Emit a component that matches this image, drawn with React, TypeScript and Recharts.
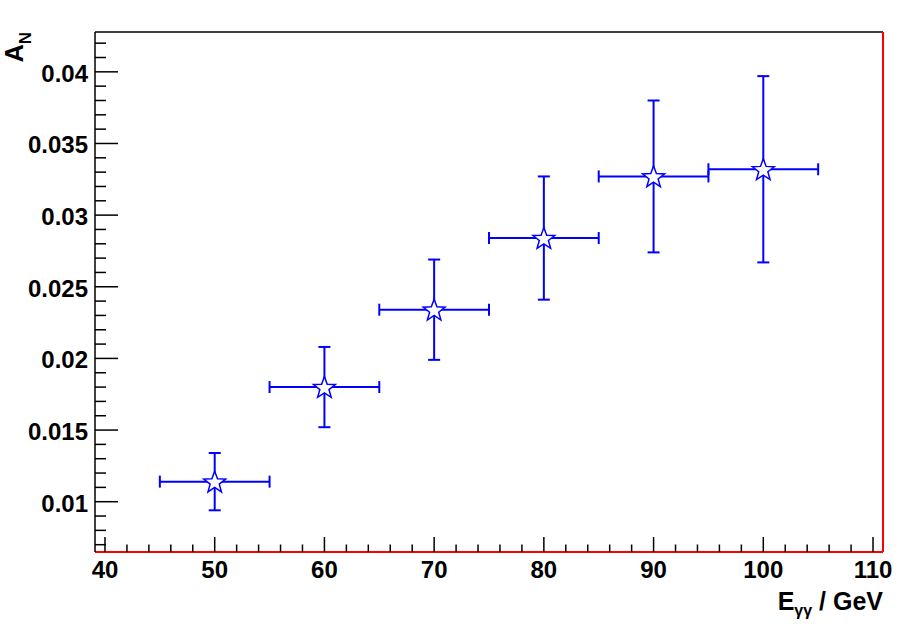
import React from "react";
import { ScatterChart, Scatter, XAxis, YAxis, ErrorBar, ReferenceLine } from "recharts";

// ---- data ----
const energies = [50, 60, 70, 80, 90, 100];
const asymmetry = [0.0114, 0.0180, 0.0234, 0.0284, 0.0327, 0.0332];
const asymmetryErr = [0.0020, 0.0028, 0.0035, 0.0043, 0.0053, 0.0065];
const energyErr = [5, 5, 5, 5, 5, 5];

const xMajorTicks = [40, 50, 60, 70, 80, 90, 100, 110];
const xMinorTicks = [42, 44, 46, 48, 52, 54, 56, 58, 62, 64, 66, 68, 72, 74, 76, 78, 82, 84, 86, 88, 92, 94, 96, 98, 102, 104, 106, 108];
const yMajorTicks = [0.01, 0.015, 0.02, 0.025, 0.03, 0.035, 0.04];
const yMajorLabels = ["0.01", "0.015", "0.02", "0.025", "0.03", "0.035", "0.04"];
const yMinorTicks = [0.007, 0.008, 0.009, 0.011, 0.012, 0.013, 0.014, 0.016, 0.017, 0.018, 0.019, 0.021, 0.022, 0.023, 0.024, 0.026, 0.027, 0.028, 0.029, 0.031, 0.032, 0.033, 0.034, 0.036, 0.037, 0.038, 0.039, 0.041, 0.042];

const X_DOMAIN: [number, number] = [39.09, 110.91];
const Y_DOMAIN: [number, number] = [0.00649, 0.04278];

const data = energies.map((e, i) => ({
  x: e,
  y: asymmetry[i],
  ex: energyErr[i],
  ey: asymmetryErr[i],
}));

// ---- layout ----
const W = 902;
const H = 634;
const PLOT_LEFT = 95;
const PLOT_RIGHT = 883;
const PLOT_TOP = 32;
const PLOT_BOTTOM = 552;
const FONT = "'Liberation Sans', Arial, Helvetica, sans-serif";
const BLUE = "#0000ff";

const allX = [...xMajorTicks, ...xMinorTicks].sort((a, b) => a - b);
const allY = [...yMajorTicks, ...yMinorTicks].sort((a, b) => a - b);

function XTick(props: any) {
  const { x, payload } = props;
  const v = payload.value;
  const idx = xMajorTicks.indexOf(v);
  const major = idx >= 0;
  return (
    <g>
      <line x1={x} x2={x} y1={PLOT_BOTTOM} y2={PLOT_BOTTOM - (major ? 15 : 7.5)} stroke="#000" strokeWidth={1.5} />
      {major && (
        <text x={x} y={PLOT_BOTTOM + 26} textAnchor="middle" fontFamily={FONT} fontWeight="bold" fontSize={24} fill="#000">
          {String(xMajorTicks[idx])}
        </text>
      )}
    </g>
  );
}

function YTick(props: any) {
  const { y, payload } = props;
  const v = payload.value;
  let idx = -1;
  yMajorTicks.forEach((t, i) => {
    if (Math.abs(t - v) < 1e-9) idx = i;
  });
  const major = idx >= 0;
  return (
    <g>
      <line x1={PLOT_LEFT} x2={PLOT_LEFT + (major ? 23 : 11)} y1={y} y2={y} stroke="#000" strokeWidth={1.5} />
      {major && (
        <text x={PLOT_LEFT - 7} y={y + 10} textAnchor="end" fontFamily={FONT} fontWeight="bold" fontSize={24} fill="#000">
          {yMajorLabels[idx]}
        </text>
      )}
    </g>
  );
}

function Star(props: any) {
  const { cx, cy } = props;
  if (cx == null || cy == null) return null;
  const R = 11.5;
  const r = 4.8;
  const pts: string[] = [];
  for (let i = 0; i < 10; i++) {
    const ang = -Math.PI / 2 + (i * Math.PI) / 5;
    const rad = i % 2 === 0 ? R : r;
    pts.push(`${cx + rad * Math.cos(ang)},${cy + 1 + rad * Math.sin(ang)}`);
  }
  return <polygon points={pts.join(" ")} fill="#ffffff" stroke={BLUE} strokeWidth={1.5} strokeLinejoin="miter" />;
}

export default function App() {
  return (
    <div style={{ position: "absolute", left: 0, top: 0, width: W, height: H, background: "#fff" }}>
      <ScatterChart width={W} height={H} margin={{ top: PLOT_TOP, right: W - PLOT_RIGHT, bottom: 0, left: 0 }}>
        <XAxis
          type="number"
          dataKey="x"
          domain={X_DOMAIN}
          allowDataOverflow
          ticks={allX}
          interval={0}
          tick={<XTick />}
          tickLine={false}
          axisLine={false}
          height={H - PLOT_BOTTOM}
        />
        <YAxis
          type="number"
          dataKey="y"
          domain={Y_DOMAIN}
          allowDataOverflow
          ticks={allY}
          interval={0}
          tick={<YTick />}
          tickLine={false}
          axisLine={{ stroke: "#000", strokeWidth: 1.5 }}
          width={PLOT_LEFT}
        />
        <ReferenceLine y={Y_DOMAIN[1]} stroke="#000" strokeWidth={1.5} />
        <ReferenceLine x={X_DOMAIN[1]} stroke="#000" strokeWidth={1} />
        <ReferenceLine x={X_DOMAIN[1]} stroke="#ff0000" strokeWidth={2} />
        <ReferenceLine y={Y_DOMAIN[0]} stroke="#ff0000" strokeWidth={2} />
        <Scatter data={data} isAnimationActive={false} shape={<Star />}>
          <ErrorBar dataKey="ey" direction="y" width={6} stroke={BLUE} strokeWidth={2} isAnimationActive={false} />
          <ErrorBar dataKey="ex" direction="x" width={6} stroke={BLUE} strokeWidth={2} isAnimationActive={false} />
        </Scatter>
        <text transform="rotate(-90)" x={-PLOT_TOP} y={23} textAnchor="end" fontFamily={FONT} fontWeight="bold" fontSize={25} fill="#000">
          A<tspan fontSize={17} dy={8}>N</tspan>
        </text>
        <text x={PLOT_RIGHT} y={610} textAnchor="end" fontFamily={FONT} fontWeight="bold" fontSize={25} fill="#000">
          E<tspan fontSize={16} dy={6}>γγ</tspan><tspan dy={-6}> / GeV</tspan>
        </text>
      </ScatterChart>
    </div>
  );
}
